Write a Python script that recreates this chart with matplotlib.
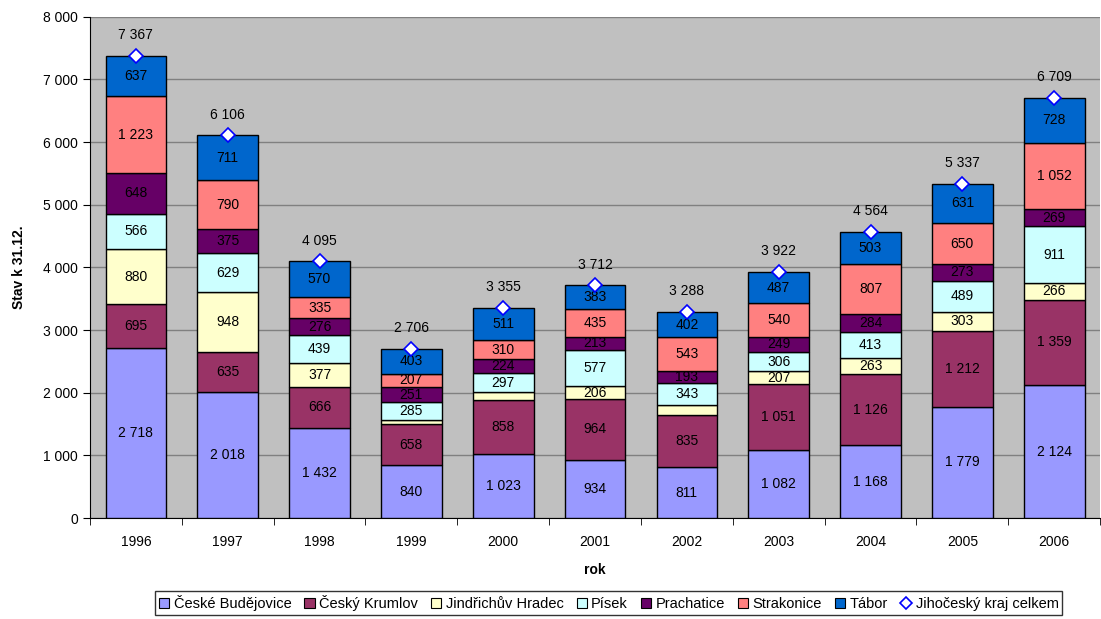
import matplotlib
matplotlib.use("Agg")
import matplotlib.pyplot as plt
import numpy as np
from matplotlib.lines import Line2D
from matplotlib.patches import Patch

plt.rcParams['font.family'] = ['Liberation Sans', 'DejaVu Sans']

years = ["1996", "1997", "1998", "1999", "2000", "2001", "2002", "2003", "2004", "2005", "2006"]
ceske_budejovice = [2718, 2018, 1432, 840, 1023, 934, 811, 1082, 1168, 1779, 2124]
cesky_krumlov = [695, 635, 666, 658, 858, 964, 835, 1051, 1126, 1212, 1359]
jindrichuv_hradec = [880, 948, 377, 62, 132, 206, 161, 207, 263, 303, 266]
pisek = [566, 629, 439, 285, 297, 577, 343, 306, 413, 489, 911]
prachatice = [648, 375, 276, 251, 224, 213, 193, 249, 284, 273, 269]
strakonice = [1223, 790, 335, 207, 310, 435, 543, 540, 807, 650, 1052]
tabor = [637, 711, 570, 403, 511, 383, 402, 487, 503, 631, 728]
celkem = [7367, 6106, 4095, 2706, 3355, 3712, 3288, 3922, 4564, 5337, 6709]

series = [
    ("České Budějovice", ceske_budejovice, "#9999FF"),
    ("Český Krumlov", cesky_krumlov, "#993366"),
    ("Jindřichův Hradec", jindrichuv_hradec, "#FFFFCC"),
    ("Písek", pisek, "#CCFFFF"),
    ("Prachatice", prachatice, "#660066"),
    ("Strakonice", strakonice, "#FF8080"),
    ("Tábor", tabor, "#0066CC"),
]

def fmt(v):
    return f"{int(v):,}".replace(",", " ")

fig = plt.figure(figsize=(11.01, 6.19), dpi=100)
ax = fig.add_axes([0.0817, 0.163, 0.9175, 0.81])
ax.set_facecolor("#C0C0C0")

x = np.arange(len(years))
bottom = np.zeros(len(years))
handles = []
for name, vals, col in series:
    vals = np.array(vals, dtype=float)
    ax.bar(x, vals, 0.66, bottom=bottom, color=col, edgecolor="black", linewidth=1.0, zorder=3)
    for xi, b, v in zip(x, bottom, vals):
        if v >= 170:
            ax.text(xi, b + v / 2, fmt(v), ha="center", va="center", fontsize=10, color="black", zorder=5)
    bottom += vals
    handles.append(Patch(facecolor=col, edgecolor="black", linewidth=0.8, label=name))

ax.plot(x, celkem, linestyle="none", marker="D", markersize=7, markerfacecolor="white",
        markeredgecolor="#0000FF", markeredgewidth=1.2, zorder=6)
for xi, v in zip(x, celkem):
    ax.annotate(fmt(v), (xi, v), xytext=(0, 10), textcoords="offset points",
                ha="center", va="bottom", fontsize=10, zorder=6)
handles.append(Line2D([], [], linestyle="none", marker="D", markersize=6, markerfacecolor="white",
                      markeredgecolor="#0000FF", markeredgewidth=1.2, label="Jihočeský kraj celkem"))

ax.set_xlim(-0.5, len(years) - 0.5)
ax.set_ylim(0, 8000)
ax.set_yticks(np.arange(0, 8001, 1000))
ax.set_yticklabels([fmt(v) for v in np.arange(0, 8001, 1000)], fontsize=10)
ax.yaxis.grid(True, color="#808080", linewidth=1.0, zorder=0)
ax.set_axisbelow(True)
ax.set_xticks(x)
ax.set_xticklabels(years, fontsize=10)
ax.tick_params(axis="x", length=0, pad=12)
ax.set_xticks(np.arange(-0.5, len(years), 1), minor=True)
ax.tick_params(axis="x", which="minor", length=5, direction="out")
ax.tick_params(axis="y", length=5, direction="out")
for s in ["top", "right"]:
    ax.spines[s].set_visible(False)
ax.spines["left"].set_color("black")
ax.spines["bottom"].set_color("black")

ax.set_xlabel("rok", fontsize=10, fontweight="bold", labelpad=10)
ax.set_ylabel("Stav k 31.12.", fontsize=10, fontweight="bold", labelpad=12)

leg = fig.legend(handles=handles, loc="lower center", bbox_to_anchor=(0.553, 0.0), ncol=8,
                 fontsize=10.5, frameon=True, fancybox=False, edgecolor="black",
                 handlelength=0.7, handleheight=0.7, handletextpad=0.3, columnspacing=0.9,
                 borderpad=0.25, borderaxespad=0.3)
leg.get_frame().set_linewidth(1.0)

fig.savefig("out.png", dpi=100)
